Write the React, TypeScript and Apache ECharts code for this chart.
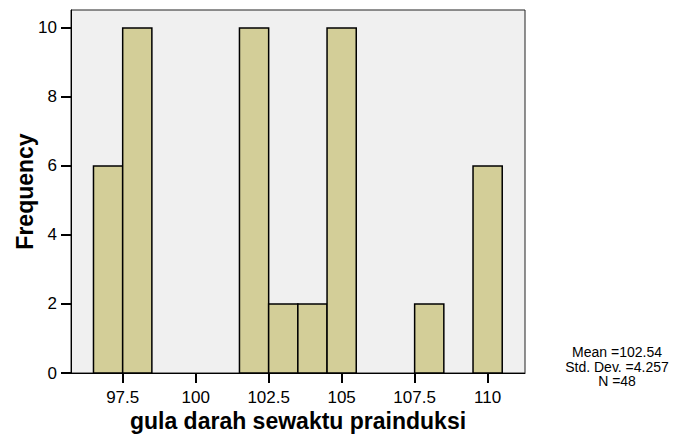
import React, { useEffect, useRef } from "react";
import * as echarts from "echarts";

const binCenters = [97, 98, 99, 100, 101, 102, 103, 104, 105, 106, 107, 108, 109, 110];
const frequencies = [6, 10, 0, 0, 0, 10, 2, 2, 10, 0, 0, 2, 0, 6];
const xTickValues = [97.5, 100, 102.5, 105, 107.5, 110];
const yTickValues = [0, 2, 4, 6, 8, 10];
const statsLines = ["Mean =102.54", "Std. Dev. =4.257", "N =48"];
const xTitle = "gula darah sewaktu prainduksi";
const yTitle = "Frequency";

const FONT = "'Liberation Sans', Arial, sans-serif";

export default function App() {
  const ref = useRef<HTMLDivElement>(null);
  useEffect(() => {
    if (!ref.current) return;
    const chart = echarts.init(ref.current, null, { renderer: "svg" });
    const data = binCenters
      .map((c, i) => [c - 0.5, c + 0.5, frequencies[i]])
      .filter((d) => d[2] > 0);
    chart.setOption({
      animation: false,
      backgroundColor: "#ffffff",
      grid: {
        left: 71,
        top: 10,
        right: 156,
        bottom: 67,
        outerBoundsMode: "none",
        containLabel: false,
        show: true,
        backgroundColor: "#F0F0F0",
        borderColor: "#222",
        borderWidth: 1,
      },
      xAxis: {
        type: "value",
        min: 95.73,
        max: 111.28,
        name: xTitle,
        nameLocation: "middle",
        nameGap: 36,
        nameMoveOverlap: false,
        nameTextStyle: { fontFamily: FONT, fontSize: 23, fontWeight: "bold", color: "#000" },
        axisLine: { show: true, lineStyle: { color: "#000", width: 1 } },
        axisTick: { show: true, length: 10, customValues: xTickValues, lineStyle: { color: "#000", width: 2 } },
        axisLabel: {
          customValues: xTickValues,
          formatter: (v: number) => String(v),
          fontFamily: FONT,
          fontSize: 17,
          color: "#000",
          margin: 16,
        },
        splitLine: { show: false },
      },
      yAxis: {
        type: "value",
        min: 0,
        max: 10.52,
        name: yTitle,
        nameLocation: "middle",
        nameGap: 35,
        nameMoveOverlap: false,
        nameTextStyle: { fontFamily: FONT, fontSize: 23, fontWeight: "bold", color: "#000" },
        axisLine: { show: true, lineStyle: { color: "#000", width: 1 } },
        axisTick: { show: true, length: 10, customValues: yTickValues, lineStyle: { color: "#000", width: 2 } },
        axisLabel: {
          customValues: yTickValues,
          fontFamily: FONT,
          fontSize: 17,
          color: "#000",
          margin: 14,
        },
        splitLine: { show: false },
      },
      series: [
        {
          type: "custom",
          data,
          encode: { x: [0, 1], y: 2 },
          renderItem: (params: any, api: any) => {
            const p0 = api.coord([api.value(0), api.value(2)]);
            const p1 = api.coord([api.value(1), 0]);
            return {
              type: "rect",
              shape: { x: p0[0], y: p0[1], width: p1[0] - p0[0], height: p1[1] - p0[1] },
              style: { fill: "#D3CE98", stroke: "#000", lineWidth: 1.5 },
            };
          },
        },
      ],
      graphic: statsLines.map((line, i) => ({
        type: "text",
        x: 617,
        y: 352 + i * 14.5,
        style: {
          text: line,
          font: `14px ${FONT}`,
          fill: "#000",
          align: "center",
          verticalAlign: "middle",
        },
      })),
    });
    return () => chart.dispose();
  }, []);
  return (
    <div
      ref={ref}
      style={{ position: "fixed", left: 0, top: 0, width: 681, height: 440 }}
    />
  );
}
